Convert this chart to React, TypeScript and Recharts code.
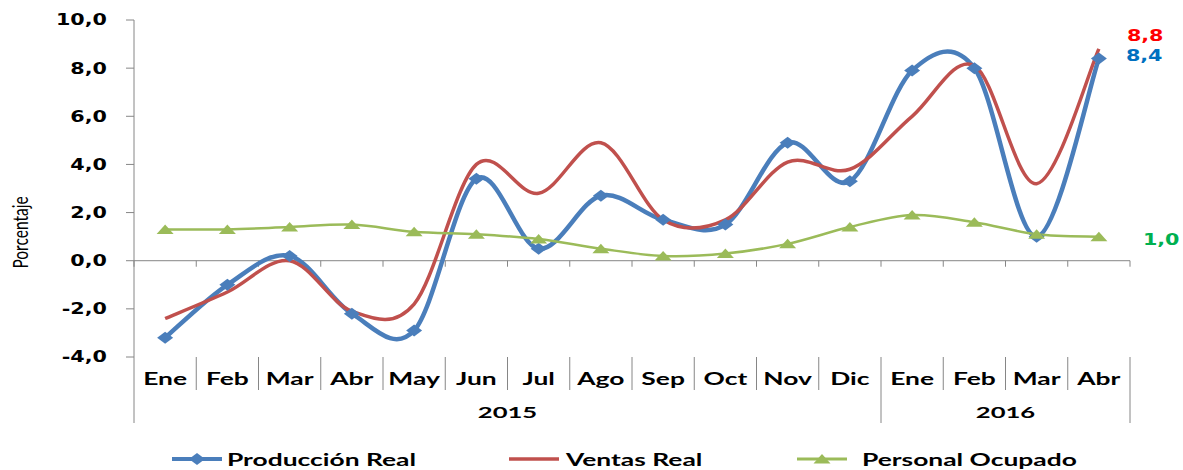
import React from "react";
import { LineChart, Line, XAxis, YAxis, ReferenceLine, Legend, LabelList } from "recharts";

const months = ["Ene", "Feb", "Mar", "Abr", "May", "Jun", "Jul", "Ago", "Sep", "Oct", "Nov", "Dic", "Ene", "Feb", "Mar", "Abr"];
const years = [
  { label: "2015", count: 12 },
  { label: "2016", count: 4 },
];
const produccionReal = [-3.2, -1.0, 0.2, -2.2, -2.9, 3.4, 0.5, 2.7, 1.7, 1.5, 4.9, 3.3, 7.9, 8.0, 1.0, 8.4];
const ventasReal = [-2.4, -1.3, 0.0, -2.1, -1.8, 4.0, 2.8, 4.9, 1.7, 1.7, 4.1, 3.8, 6.0, 8.1, 3.2, 8.8];
const personalOcupado = [1.3, 1.3, 1.4, 1.5, 1.2, 1.1, 0.9, 0.5, 0.2, 0.3, 0.7, 1.4, 1.9, 1.6, 1.1, 1.0];
const yTicks = [-4, -2, 0, 2, 4, 6, 8, 10];

const rows = months.map((mes, i) => ({
  idx: i,
  mes,
  produccion: produccionReal[i],
  ventas: ventasReal[i],
  personal: personalOcupado[i],
}));

// category boundaries (ticks sit between months, like Excel)
const bounds = months.map((_, i) => i - 0.5).concat(months.length - 0.5);
const yearEdges: number[] = [-0.5];
years.forEach((y) => yearEdges.push(yearEdges[yearEdges.length - 1] + y.count));

const W = 1183;
const H = 470;
const MARGIN = { top: 20, right: 53, bottom: 0, left: 0 };
const Y_W = 134;
const LEGEND_H = 28;
const X_H = 85;
const BAND = (W - Y_W - MARGIN.right) / months.length;

const BLUE = "#4A7EBB";
const RED = "#C0504D";
const GREEN = "#9BBB59";
const GRAY = "#868686";
const NUM_FONT = "'DejaVu Sans', Verdana, sans-serif";
const LBL_FONT = "Lato, Calibri, 'Open Sans', sans-serif";
const SX = 1.6;

const fmt = (v: number) => v.toFixed(1).replace(".", ",");

// Excel-style smoothed line (Catmull-Rom through the points)
function excelCurve(context: any) {
  let pts: number[][] = [];
  return {
    areaStart() {},
    areaEnd() {},
    lineStart() {
      pts = [];
    },
    lineEnd() {
      const n = pts.length;
      if (!n) return;
      context.moveTo(pts[0][0], pts[0][1]);
      for (let i = 0; i < n - 1; i++) {
        const p0 = pts[i === 0 ? 0 : i - 1];
        const p1 = pts[i];
        const p2 = pts[i + 1];
        const p3 = pts[i + 2 < n ? i + 2 : n - 1];
        context.bezierCurveTo(
          p1[0] + (p2[0] - p0[0]) / 6,
          p1[1] + (p2[1] - p0[1]) / 6,
          p2[0] - (p3[0] - p1[0]) / 6,
          p2[1] - (p3[1] - p1[1]) / 6,
          p2[0],
          p2[1]
        );
      }
    },
    point(x: number, y: number) {
      pts.push([+x, +y]);
    },
  };
}

const diamond = (cx: number, cy: number) =>
  `M${cx - 8},${cy} L${cx},${cy - 6} L${cx + 8},${cy} L${cx},${cy + 6} Z`;
const triangle = (cx: number, cy: number) =>
  `M${cx - 8.5},${cy + 4.5} L${cx},${cy - 5} L${cx + 8.5},${cy + 4.5} Z`;

const DiamondDot = (props: any) => {
  const { cx, cy, index } = props;
  if (cx == null || cy == null) return <g key={index} />;
  return <path key={index} d={diamond(cx, cy)} fill={BLUE} />;
};

const TriangleDot = (props: any) => {
  const { cx, cy, index } = props;
  if (cx == null || cy == null) return <g key={index} />;
  return <path key={index} d={triangle(cx, cy)} fill={GREEN} />;
};

const YTick = (props: any) => {
  const { x, y, payload } = props;
  return (
    <g transform={`translate(${x},${y})`}>
      <text
        transform={`scale(1.38,1)`}
        textAnchor="end"
        dy="0.36em"
        fontFamily={NUM_FONT}
        fontWeight="bold"
        fontSize={15}
        fill="#000"
      >
        {fmt(payload.value)}
      </text>
    </g>
  );
};

const XTick = (props: any) => {
  const { x, y, payload } = props;
  const b = payload.value as number;
  const i = Math.round(b + 0.5);
  const isYearEdge = yearEdges.some((e) => Math.abs(e - b) < 1e-6);
  const yearIdx = yearEdges.findIndex((e) => Math.abs(e - b) < 1e-6);
  const year = yearIdx >= 0 && yearIdx < years.length ? years[yearIdx] : null;
  return (
    <g>
      <line x1={x} y1={y} x2={x} y2={y + (isYearEdge ? 66 : 33)} stroke={GRAY} strokeWidth={1} />
      {i < months.length && (
        <g transform={`translate(${x + BAND / 2},${y + 28})`}>
          <text transform={`scale(${SX},1)`} textAnchor="middle" fontFamily={LBL_FONT} fontWeight="bold" fontSize={16.5} fill="#000">
            {months[i]}
          </text>
        </g>
      )}
      {year && (
        <g transform={`translate(${x + (year.count * BAND) / 2},${y + 61})`}>
          <text transform={`scale(${SX},1)`} textAnchor="middle" fontFamily={LBL_FONT} fontWeight="bold" fontSize={16} fill="#000">
            {year.label}
          </text>
        </g>
      )}
    </g>
  );
};

const endLabel = (color: string, dx: number, dy: number) => (props: any) => {
  const { x, y, index, value } = props;
  if (index !== months.length - 1) return null;
  return (
    <g transform={`translate(${x + dx},${y + dy})`}>
      <text transform={`scale(1.38,1)`} fontFamily={NUM_FONT} fontWeight="bold" fontSize={15} fill={color}>
        {fmt(value)}
      </text>
    </g>
  );
};

const legendItems = [
  { name: "Producción Real", color: BLUE, marker: "diamond", x: 172, gap: 55, width: 4 },
  { name: "Ventas Real", color: RED, marker: "none", x: 509, gap: 57, width: 3.5 },
  { name: "Personal Ocupado", color: GREEN, marker: "triangle", x: 797, gap: 65, width: 3 },
];

const LegendContent = () => (
  <svg width={W} height={LEGEND_H} style={{ display: "block" }}>
    {legendItems.map((it) => (
      <g key={it.name}>
        <line x1={it.x} y1={17} x2={it.x + 50} y2={17} stroke={it.color} strokeWidth={it.width} />
        {it.marker === "diamond" && <path d={diamond(it.x + 25, 17)} fill={it.color} />}
        {it.marker === "triangle" && <path d={triangle(it.x + 25, 17)} fill={it.color} />}
        <g transform={`translate(${it.x + it.gap},24)`}>
          <text transform={`scale(${SX},1)`} fontFamily={LBL_FONT} fontWeight="bold" fontSize={16.5} fill="#000">
            {it.name}
          </text>
        </g>
      </g>
    ))}
  </svg>
);

const YLabel = (props: any) => {
  const vb = props.viewBox || { x: 0, y: 0, width: Y_W, height: 337 };
  return (
    <text
      transform={`translate(${vb.x + 28},${vb.y + vb.height / 2 + 44}) rotate(-90) scale(1,1.4)`}
      textAnchor="middle"
      fontFamily={LBL_FONT}
      fontSize={15.5}
      fill="#000"
    >
      Porcentaje
    </text>
  );
};

export default function App() {
  return (
    <div style={{ width: W, height: H }}>
      <style>{`body{margin:0}`}</style>
      <LineChart width={W} height={H} data={rows} margin={MARGIN}>
        <XAxis
          type="number"
          dataKey="idx"
          domain={[-0.5, months.length - 0.5]}
          ticks={bounds}
          interval={0}
          allowDataOverflow
          axisLine={false}
          tickLine={false}
          tickSize={0}
          tickMargin={0}
          height={X_H}
          tick={<XTick />}
        />
        <YAxis
          type="number"
          domain={[-4, 10]}
          ticks={yTicks}
          interval={0}
          width={Y_W}
          axisLine={{ stroke: GRAY }}
          tickLine={{ stroke: GRAY }}
          tickSize={8}
          tickMargin={19}
          tick={<YTick />}
          label={<YLabel />}
        />
        <ReferenceLine y={0} stroke={GRAY} strokeWidth={1} />
        {bounds.map((b) => (
          <ReferenceLine
            key={b}
            segment={[
              { x: b, y: 0 },
              { x: b, y: -0.25 },
            ]}
            stroke={GRAY}
            strokeWidth={1}
          />
        ))}
        <Legend verticalAlign="bottom" content={<LegendContent />} wrapperStyle={{ left: 0, width: W, height: LEGEND_H }} />
        <Line
          dataKey="produccion"
          name="Producción Real"
          type={excelCurve as any}
          stroke={BLUE}
          strokeWidth={4.5}
          dot={DiamondDot}
          activeDot={false}
          isAnimationActive={false}
        >
          <LabelList dataKey="produccion" content={endLabel("#0070C0", 27, 2.5)} />
        </Line>
        <Line
          dataKey="ventas"
          name="Ventas Real"
          type={excelCurve as any}
          stroke={RED}
          strokeWidth={3.5}
          dot={false}
          activeDot={false}
          isAnimationActive={false}
        >
          <LabelList dataKey="ventas" content={endLabel("#FF0000", 28, -8)} />
        </Line>
        <Line
          dataKey="personal"
          name="Personal Ocupado"
          type={excelCurve as any}
          stroke={GREEN}
          strokeWidth={2.5}
          dot={TriangleDot}
          activeDot={false}
          isAnimationActive={false}
        >
          <LabelList dataKey="personal" content={endLabel("#00B050", 44, 8.5)} />
        </Line>
      </LineChart>
    </div>
  );
}
